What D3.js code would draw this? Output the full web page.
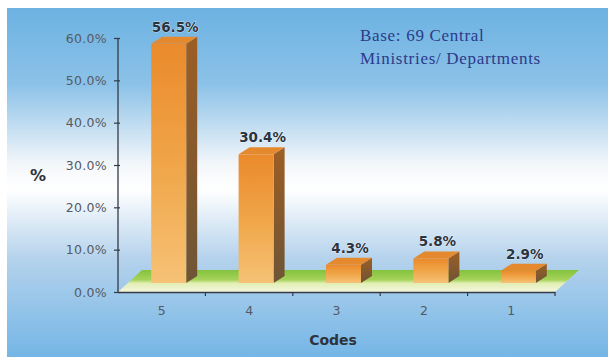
<!DOCTYPE html>
<html>
<head>
<meta charset="utf-8">
<script src="https://cdn.jsdelivr.net/npm/d3@7"></script>
<style>
  html, body { margin: 0; padding: 0; background: #ffffff; }
  svg { display: block; }
</style>
</head>
<body>
<svg id="chart" width="608" height="357"></svg>
<script>
// Share of ministries/departments by code
const codes = ["5", "4", "3", "2", "1"];
const shares = [56.5, 30.4, 4.3, 5.8, 2.9];
const yTicks = [0, 10, 20, 30, 40, 50, 60];
const noteLines = ["Base: 69 Central", "Ministries/ Departments"];

const svg = d3.select("#chart");
const W = 608, H = 357;
const defs = svg.append("defs");
const sans = "'DejaVu Sans', Verdana, sans-serif";

// backdrop: blue at top and bottom, white band through the middle
const bg = defs.append("linearGradient").attr("id", "bg")
  .attr("x1", 0).attr("y1", 0).attr("x2", 0).attr("y2", 1);
[[0, "#6cb2e2"], [0.22, "#8cc2e8"], [0.45, "#f4f7fa"], [0.52, "#ffffff"], [0.72, "#b4d2ec"], [1, "#74b6e6"]]
  .forEach(([o, c]) => bg.append("stop").attr("offset", o).attr("stop-color", c));

svg.append("rect").attr("x", 7).attr("y", 8).attr("width", W - 7).attr("height", H - 8)
  .attr("fill", "url(#bg)");

const x = d3.scaleBand().domain(codes).range([118, 555]).paddingInner(0).paddingOuter(0);
const y = d3.scaleLinear().domain([0, 60]).range([292, 38]);

// floor of the 3-D plot
const floorGrad = defs.append("linearGradient").attr("id", "floor")
  .attr("x1", 0).attr("y1", 0).attr("x2", 0).attr("y2", 1);
[[0, "#84c23e"], [0.45, "#a6d35a"], [0.6, "#e2eeb4"], [1, "#f4f6dc"]]
  .forEach(([o, c]) => floorGrad.append("stop").attr("offset", o).attr("stop-color", c));

const floorDepth = { dx: 24, dy: -22 };
const x0 = x.range()[0], x1 = x.range()[1], yb = y(0);
svg.append("path")
  .attr("d", `M${x0},${yb} L${x0 + floorDepth.dx},${yb + floorDepth.dy} L${x1 + floorDepth.dx},${yb + floorDepth.dy} L${x1},${yb} Z`)
  .attr("fill", "url(#floor)");

// bar gradients
const front = defs.append("linearGradient").attr("id", "front")
  .attr("x1", 0).attr("y1", 0).attr("x2", 0).attr("y2", 1);
[[0, "#ea8a2c"], [0.5, "#f0a548"], [1, "#f6c276"]]
  .forEach(([o, c]) => front.append("stop").attr("offset", o).attr("stop-color", c));
const side = defs.append("linearGradient").attr("id", "side")
  .attr("x1", 0).attr("y1", 0).attr("x2", 0).attr("y2", 1);
[[0, "#9c5e24"], [1, "#6e5536"]]
  .forEach(([o, c]) => side.append("stop").attr("offset", o).attr("stop-color", c));

const barW = 35, shift = 7, depth = { dx: 11, dy: -7 }, lift = 9;

const bars = svg.append("g").selectAll("g").data(codes.map((c, i) => ({ code: c, v: shares[i] })))
  .join("g");

bars.each(function (d) {
  const g = d3.select(this);
  const cx = x(d.code) + x.bandwidth() / 2 + shift;
  const L = cx - barW / 2, R = cx + barW / 2;
  const B = y(0) - lift, T = y(d.v) - lift;
  // right side
  g.append("path")
    .attr("d", `M${R},${B} L${R + depth.dx},${B + depth.dy} L${R + depth.dx},${T + depth.dy} L${R},${T} Z`)
    .attr("fill", "url(#side)");
  // top
  g.append("path")
    .attr("d", `M${L},${T} L${L + depth.dx},${T + depth.dy} L${R + depth.dx},${T + depth.dy} L${R},${T} Z`)
    .attr("fill", "#e4892e");
  // front
  g.append("rect").attr("x", L).attr("y", T).attr("width", barW).attr("height", B - T)
    .attr("fill", "url(#front)");
  // value label
  g.append("text")
    .attr("x", cx + depth.dx / 2 + 1).attr("y", T + depth.dy - 5)
    .attr("text-anchor", "middle")
    .attr("font-family", sans)
    .attr("font-weight", "bold").attr("font-size", 13.5)
    .attr("fill", "#2a3340")
    .attr("stroke", "#ffffff").attr("stroke-width", 0.6).attr("paint-order", "stroke")
    .text(d3.format(".1f")(d.v) + "%");
});

// value axis
const yAxis = svg.append("g").attr("transform", `translate(${x0},0)`)
  .call(d3.axisLeft(y).tickValues(yTicks).tickSize(4).tickPadding(7)
    .tickFormat(d => d3.format(".1f")(d) + "%"));
yAxis.select(".domain").attr("stroke", "#333a44").attr("stroke-width", 1.3).attr("d", `M0,${y(60)}V${y(0)}`);
yAxis.selectAll(".tick line").attr("stroke", "#333a44").attr("stroke-width", 1.2).attr("x2", -4).attr("x1", 2);
yAxis.selectAll(".tick text")
  .attr("font-family", sans).attr("font-size", 12.5).attr("letter-spacing", 0.3)
  .attr("fill", "#555a62");

// category axis
const xAxis = svg.append("g").attr("transform", `translate(0,${y(0)})`)
  .call(d3.axisBottom(x).tickSize(0).tickPadding(14));
xAxis.select(".domain").attr("stroke", "#333a44").attr("stroke-width", 1.3);
xAxis.selectAll(".tick text")
  .attr("font-family", sans).attr("font-size", 12.5)
  .attr("fill", "#555a62");
// boundary ticks between categories
svg.append("g").selectAll("line").data(codes)
  .join("line")
  .attr("x1", d => x(d) + x.bandwidth()).attr("x2", d => x(d) + x.bandwidth())
  .attr("y1", y(0)).attr("y2", y(0) + 4)
  .attr("stroke", "#333a44").attr("stroke-width", 1.2);

// axis titles
svg.append("text").attr("x", 38).attr("y", 181).attr("text-anchor", "middle")
  .attr("font-family", sans).attr("font-weight", "bold")
  .attr("font-size", 16).attr("fill", "#2e323a").text("%");
svg.append("text").attr("x", 333).attr("y", 345).attr("text-anchor", "middle")
  .attr("font-family", sans).attr("font-weight", "bold")
  .attr("font-size", 14).attr("fill", "#2e323a").text("Codes");

// note
svg.append("g").selectAll("text").data(noteLines).join("text")
  .attr("x", 360).attr("y", (d, i) => 41 + i * 23)
  .attr("font-family", "'Liberation Serif', 'Times New Roman', serif")
  .attr("font-size", 17).attr("letter-spacing", 0.7).attr("fill", "#2c3a8a")
  .text(d => d);
</script>
</body>
</html>
